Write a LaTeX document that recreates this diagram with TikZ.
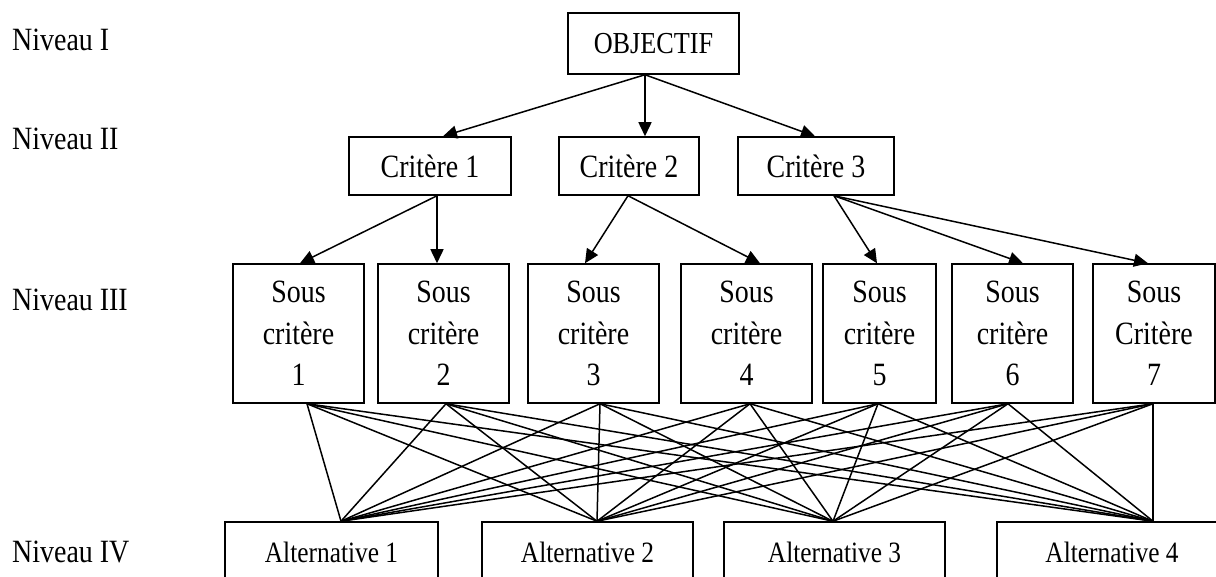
\documentclass[tikz,border=0pt]{standalone}
\usepackage{fontspec}
\setmainfont[FakeStretch=0.86]{Liberation Serif}
\usetikzlibrary{arrows.meta}
\begin{document}
\begin{tikzpicture}[x=1pt,y=-1pt,
  bx/.style={draw,line width=1.5pt,inner sep=0pt,fill=white},
  topbox/.style={bx,minimum width=171pt,minimum height=61pt,font=\fontsize{30.5}{36}\selectfont},
  critbox/.style={bx,minimum height=58pt,font=\fontsize{32.5}{39}\selectfont},
  subbox/.style={bx,minimum height=139pt,align=center,font=\fontsize{32.5}{41.5}\selectfont},
  altbox/.style={bx,minimum height=60pt,font=\fontsize{29.5}{35}\selectfont},
  lvl/.style={anchor=west,inner sep=0pt,font=\fontsize{32.5}{39}\selectfont},
  arr/.style={line width=1.5pt,-{Triangle[length=14pt,width=13pt]}},
  mesh/.style={line width=1.5pt}]
\useasboundingbox (0,0) rectangle (1216,577);
\fill[white] (0,0) rectangle (1216,577);

% level labels
\node[lvl] (n1) at (12,40) {Niveau I};
\node[lvl] (n2) at (12,139) {Niveau II};
\node[lvl] (n3) at (12,300) {Niveau III};
\node[lvl] (n4) at (12,552) {Niveau IV};

% boxes
\node[topbox] (obj) at (653.5,43.5) {OBJECTIF};
\node[critbox,minimum width=162pt] (c1) at (430,166) {Critère 1};
\node[critbox,minimum width=140pt] (c2) at (629,166) {Critère 2};
\node[critbox,minimum width=156pt] (c3) at (816,166) {Critère 3};

\node[subbox,minimum width=131pt] (s1) at (298.5,333.5) {Sous\\critère\\1};
\node[subbox,minimum width=131pt] (s2) at (443.5,333.5) {Sous\\critère\\2};
\node[subbox,minimum width=131pt] (s3) at (593.5,333.5) {Sous\\critère\\3};
\node[subbox,minimum width=131pt] (s4) at (746.5,333.5) {Sous\\critère\\4};
\node[subbox,minimum width=113pt] (s5) at (879.5,333.5) {Sous\\critère\\5};
\node[subbox,minimum width=121pt] (s6) at (1012.5,333.5) {Sous\\critère\\6};
\node[subbox,minimum width=122pt] (s7) at (1154,333.5) {Sous\\Critère\\7};

\node[altbox,minimum width=213pt] (a1) at (331.5,552) {Alternative 1};
\node[altbox,minimum width=211pt] (a2) at (587.5,552) {Alternative 2};
\node[altbox,minimum width=221pt] (a3) at (834.5,552) {Alternative 3};
\node[altbox,minimum width=230pt] (a4) at (1112,552) {Alternative 4};

% arrows level I -> II
\draw[arr] ([xshift=-8.5pt]obj.south) -- ([xshift=13pt]c1.north);
\draw[arr] ([xshift=-8.5pt]obj.south) -- ([xshift=16pt]c2.north);
\draw[arr] ([xshift=-8.5pt]obj.south) -- ([xshift=-1pt]c3.north);

% arrows level II -> III
\draw[arr] ([xshift=7pt]c1.south) -- ([xshift=1.5pt]s1.north);
\draw[arr] ([xshift=7pt]c1.south) -- ([xshift=-6.5pt]s2.north);
\draw[arr] ([xshift=-1pt]c2.south) -- ([xshift=-8.5pt]s3.north);
\draw[arr] ([xshift=-1pt]c2.south) -- ([xshift=13.5pt]s4.north);
\draw[arr] ([xshift=18pt]c3.south) -- ([xshift=-2.5pt]s5.north);
\draw[arr] ([xshift=18pt]c3.south) -- ([xshift=10.5pt]s6.north);
\draw[arr] ([xshift=18pt]c3.south) -- ([xshift=-6pt]s7.north);

% mesh level III -> IV
\coordinate (s1b) at ([xshift=8.5pt]s1.south);
\coordinate (s2b) at ([xshift=2.5pt]s2.south);
\coordinate (s3b) at ([xshift=6.5pt]s3.south);
\coordinate (s4b) at ([xshift=3.5pt]s4.south);
\coordinate (s5b) at ([xshift=-1.5pt]s5.south);
\coordinate (s6b) at ([xshift=-4.5pt]s6.south);
\coordinate (s7b) at ([xshift=-1pt]s7.south);
\coordinate (a1t) at ([xshift=9.5pt]a1.north);
\coordinate (a2t) at ([xshift=9.5pt]a2.north);
\coordinate (a3t) at ([xshift=-1.5pt]a3.north);
\coordinate (a4t) at ([xshift=41pt]a4.north);
\foreach \s in {1,...,7}{
  \foreach \a in {1,...,4}{
    \draw[mesh] (s\s b) -- (a\a t);
  }
}
\end{tikzpicture}
\end{document}
